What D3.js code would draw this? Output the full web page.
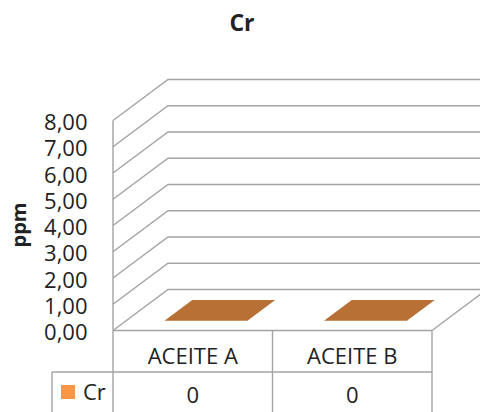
<!DOCTYPE html>
<html>
<head>
<meta charset="utf-8">
<script src="https://cdn.jsdelivr.net/npm/d3@7"></script>
<style>
  html, body { margin: 0; padding: 0; background: #fff; }
  svg { display: block; }
  text { font-family: "Open Sans", "Noto Sans", sans-serif; fill: #222; }
</style>
</head>
<body>
<svg id="chart" width="480" height="412"></svg>
<script>
// Chart data
const title = "Cr";
const yLabel = "ppm";
const categories = ["ACEITE A", "ACEITE B"];
const seriesName = "Cr";
const seriesValues = [0, 0];
const yTicks = [0, 1, 2, 3, 4, 5, 6, 7, 8];

const W = 480, H = 412;
const svg = d3.select("#chart");

// Front plane of the 3D plot box and the depth vector to the back wall
const frontLeft = 113, frontRight = 432;
const depth = { dx: 55, dy: -41 };

const y = d3.scaleLinear().domain([0, 8]).range([330.5, 120.5]);
const x = d3.scaleBand().domain(categories).range([frontLeft, frontRight]).padding(0);

// project a point (front-plane x, value, depth fraction t) into the picture
const P = (px, v, t) => [px + depth.dx * t, y(v) + depth.dy * t];

const gridColor = "#a3a3a3";
const fmt = v => d3.format(".2f")(v).replace(".", ",");

svg.append("clipPath").attr("id", "frame")
  .append("rect").attr("x", 0).attr("y", 0).attr("width", W).attr("height", H);

const plot = svg.append("g").attr("clip-path", "url(#frame)");

// Gridlines: side wall diagonal + back wall horizontal
plot.append("g").selectAll("path")
  .data(yTicks)
  .join("path")
  .attr("d", v => d3.line()([P(frontLeft, v, 0), P(frontLeft, v, 1), P(frontRight, v, 1)]))
  .attr("fill", "none")
  .attr("stroke", gridColor)
  .attr("stroke-width", 1.4);

// Floor right edge
plot.append("path")
  .attr("d", d3.line()([P(frontRight, 0, 0), P(frontRight, 0, 1)]))
  .attr("stroke", gridColor).attr("stroke-width", 1.4).attr("fill", "none");

// Front vertical axis line (continues down into the data table)
plot.append("line")
  .attr("x1", frontLeft).attr("x2", frontLeft)
  .attr("y1", y(8)).attr("y2", H + 2)
  .attr("stroke", gridColor).attr("stroke-width", 1.4);

// Bars: 3D columns; at value 0 only the top face is visible
const barFrac = 0.52, t0 = 0.24, t1 = 0.745;
plot.append("g").selectAll("path")
  .data(seriesValues.map((v, i) => ({ v, c: categories[i] })))
  .join("path")
  .attr("d", d => {
    const cx = x(d.c) + x.bandwidth() / 2;
    const w = x.bandwidth() * barFrac;
    const xl = cx - w / 2, xr = cx + w / 2;
    return d3.line()([P(xl, d.v, t0), P(xr, d.v, t0), P(xr, d.v, t1), P(xl, d.v, t1)]) + "Z";
  })
  .attr("fill", "#b97034");

// Y axis tick labels
const yAxis = d3.axisLeft(y).tickValues(yTicks).tickSize(0).tickPadding(25.5).tickFormat(fmt);
const ag = svg.append("g").attr("transform", `translate(${frontLeft},2)`).call(yAxis);
ag.select(".domain").remove();
ag.selectAll("text")
  .attr("font-family", "'Open Sans', sans-serif")
  .attr("font-size", 22)
  .attr("fill", "#222");

// Y axis title
svg.append("text")
  .attr("transform", "translate(26,225) rotate(-90)")
  .attr("text-anchor", "middle")
  .attr("font-size", 20)
  .attr("font-weight", "bold")
  .text(yLabel);

// Chart title
svg.append("text")
  .attr("x", 242).attr("y", 31)
  .attr("text-anchor", "middle")
  .attr("font-size", 23)
  .attr("font-weight", "bold")
  .text(title);

// Data table
const tableTop = y(0), rowSplit = 372, legendLeft = 52;
const tg = svg.append("g").attr("stroke", gridColor).attr("stroke-width", 1.4);
tg.append("line").attr("x1", frontLeft).attr("x2", frontRight).attr("y1", tableTop).attr("y2", tableTop);
tg.append("line").attr("x1", legendLeft).attr("x2", frontRight).attr("y1", rowSplit).attr("y2", rowSplit);
tg.append("line").attr("x1", legendLeft).attr("x2", legendLeft).attr("y1", rowSplit).attr("y2", H + 2);
tg.selectAll("line.col")
  .data(categories)
  .join("line")
  .attr("class", "col")
  .attr("x1", c => x(c) + x.bandwidth()).attr("x2", c => x(c) + x.bandwidth())
  .attr("y1", tableTop).attr("y2", H + 2);

svg.append("g").selectAll("text")
  .data(categories)
  .join("text")
  .attr("x", c => x(c) + x.bandwidth() / 2)
  .attr("y", 356)
  .attr("dy", "0.35em")
  .attr("text-anchor", "middle")
  .attr("font-size", 22)
  .text(c => c);

svg.append("g").selectAll("text")
  .data(seriesValues.map((v, i) => ({ v, c: categories[i] })))
  .join("text")
  .attr("x", d => x(d.c) + x.bandwidth() / 2)
  .attr("y", 395)
  .attr("dy", "0.35em")
  .attr("text-anchor", "middle")
  .attr("font-size", 22)
  .text(d => String(d.v));

// Legend key inside the table
svg.append("rect")
  .attr("x", 61).attr("y", 385).attr("width", 14).attr("height", 14)
  .attr("fill", "#f79646");
svg.append("text")
  .attr("x", 83).attr("y", 392)
  .attr("dy", "0.35em")
  .attr("font-size", 22)
  .text(seriesName);
</script>
</body>
</html>
